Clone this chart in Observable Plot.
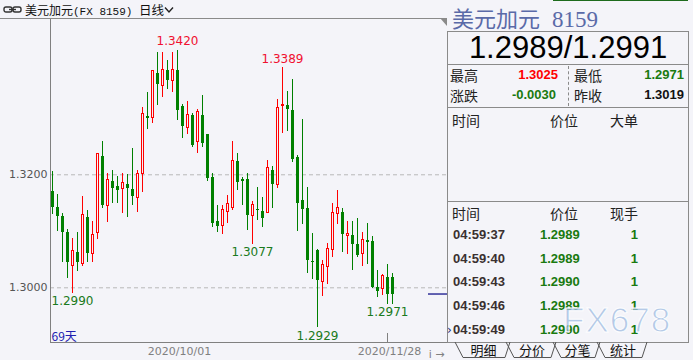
<!DOCTYPE html>
<html>
<head>
<meta charset="utf-8">
<script src="https://cdn.jsdelivr.net/npm/d3@7"></script>
<script src="https://cdn.jsdelivr.net/npm/@observablehq/plot@0.6"></script>
<style>
  html, body { margin: 0; padding: 0; background: #f4f4f9; }
  #wrap { position: relative; width: 693px; height: 360px; overflow: hidden; background: #f4f4f9;
          font-family: "Noto Sans CJK SC", "DejaVu Sans", sans-serif; }
  .abs { position: absolute; white-space: nowrap; }
  .hl { position: absolute; height: 1px; background: #8a8a8a; }
  .cn { font-family: "Noto Sans CJK SC", sans-serif; font-size: 14px; color: #222; line-height: 20px; }
  .num { font-family: "Liberation Sans", Arial, sans-serif; font-weight: bold; font-size: 13px; line-height: 20px; }
  #chart svg { display: block; }
</style>
</head>
<body>
<div id="wrap">
  <div id="chart" class="abs" style="left:0;top:0"></div>
</div>
<script>
// ---------------- data ----------------
const opens  = [1.3171,1.3143,1.3126,1.3097,1.3039,1.3063,1.3042,1.3124,1.3060,1.3097,
                1.3232,1.3145,1.3188,1.3179,1.3175,1.3183,1.3174,1.3159,1.3202,1.3303,
                1.3301,1.3379,1.3357,1.3385,1.3366,1.3385,1.3320,1.3283,1.3305,1.3258,
                1.3305,1.3271,1.3196,1.3117,1.3110,1.3134,1.3142,1.3224,1.3192,1.3192,
                1.3127,1.3139,1.3135,1.3132,1.3208,1.3182,1.3322,1.3323,1.3314,1.3230,
                1.3155,1.3140,1.3047,1.3066,1.3010,1.3037,1.3067,1.3131,1.3133,1.3091,
                1.3093,1.3077,1.3060,1.3084,1.3082,1.3001,1.2997,1.3019,1.3019];
const highs  = [1.3205,1.3166,1.3132,1.3104,1.3087,1.3097,1.3162,1.3136,1.3117,1.3237,
                1.3259,1.3202,1.3208,1.3197,1.3202,1.3201,1.3246,1.3208,1.3319,1.3346,
                1.3385,1.3416,1.3417,1.3402,1.3417,1.3420,1.3324,1.3330,1.3308,1.3316,
                1.3340,1.3271,1.3202,1.3145,1.3146,1.3163,1.3259,1.3238,1.3195,1.3203,
                1.3153,1.3178,1.3159,1.3225,1.3214,1.3333,1.3389,1.3348,1.3369,1.3234,
                1.3298,1.3177,1.3096,1.3068,1.3048,1.3078,1.3149,1.3172,1.3140,1.3117,
                1.3117,1.3122,1.3097,1.3113,1.3090,1.3031,1.3024,1.3041,1.3025];
const lows   = [1.3129,1.3100,1.3044,1.3017,1.2990,1.3029,1.3037,1.3044,1.3045,1.3085,
                1.3140,1.3116,1.3149,1.3150,1.3132,1.3125,1.3145,1.3134,1.3168,1.3280,
                1.3290,1.3322,1.3336,1.3351,1.3346,1.3296,1.3265,1.3271,1.3248,1.3238,
                1.3249,1.3189,1.3106,1.3097,1.3094,1.3114,1.3137,1.3172,1.3146,1.3101,
                1.3077,1.3119,1.3106,1.3131,1.3140,1.3175,1.3273,1.3277,1.3222,1.3100,
                1.3112,1.3026,1.3015,1.2929,1.2985,1.3006,1.3053,1.3112,1.3063,1.3059,
                1.3031,1.3054,1.3037,1.3041,1.2998,1.2983,1.2986,1.2971,1.2971];
const closes = [1.3143,1.3127,1.3097,1.3045,1.3066,1.3045,1.3128,1.3061,1.3094,1.3236,
                1.3145,1.3191,1.3176,1.3173,1.3186,1.3175,1.3162,1.3202,1.3307,1.3300,
                1.3383,1.3359,1.3385,1.3366,1.3386,1.3314,1.3286,1.3305,1.3252,1.3311,
                1.3255,1.3194,1.3114,1.3109,1.3137,1.3149,1.3224,1.3187,1.3189,1.3128,
                1.3146,1.3136,1.3122,1.3212,1.3183,1.3319,1.3324,1.3316,1.3227,1.3150,
                1.3139,1.3048,1.3044,1.3013,1.3040,1.3068,1.3133,1.3142,1.3094,1.3096,
                1.3077,1.3057,1.3084,1.3081,1.3001,1.2994,1.3021,1.2988,1.2989];

const yTicks = [1.30, 1.32];
const xTickIndex = [25, 67];
const xTickLabels = ["2020/10/01", "2020/11/28"];
const highMarkIndex = [25, 46];       // candles with labelled highs
const lowMarkIndex  = [4, 40, 53, 67]; // candles with labelled lows
const lastPrice = 1.2989;
const dayCount = "69天";

// side panel values
const panelTitle = "美元加元";
const panelCode = "8159";
const bidAsk = "1.2989/1.2991";
const statHigh = "1.3025", statLow = "1.2971", statChange = "-0.0030", statPrev = "1.3019";
const tickTimes = ["04:59:37","04:59:40","04:59:43","04:59:46","04:59:49"];
const tickPrices = ["1.2989","1.2989","1.2990","1.2989","1.2990"];
const tickVols = ["1","1","1","1","1"];
const tabs = ["明细","分价","分笔","统计"];

// --------------- chart ----------------
const RED = "#ff0000", GREEN = "#008000", BG = "#f4f4f9";
const Y0 = 1.29032, Y1 = 1.34766;
const candles = opens.map((o, i) => ({
  i, open: o, high: highs[i], low: lows[i], close: closes[i], up: closes[i] >= o
}));
const upC = candles.filter(d => d.up), downC = candles.filter(d => !d.up);
const highMarks = highMarkIndex.map(i => ({i, v: highs[i]}));
const lowMarks = lowMarkIndex.map(i => ({i, v: lows[i]}));
const nLast = candles.length - 1;

const chart = Plot.plot({
  width: 447, height: 360,
  marginTop: 18, marginBottom: 18, marginLeft: 50, marginRight: 0,
  style: {background: "transparent", fontFamily: "'DejaVu Sans', sans-serif", fontSize: "11px", overflow: "visible"},
  x: {type: "linear", domain: [-0.4, 79], axis: null},
  y: {domain: [Y0, Y1], axis: null},
  marks: [
    Plot.gridY(yTicks, {stroke: "#b8b8b8", strokeOpacity: 1, strokeDasharray: "4,3"}),
    Plot.axisY(yTicks, {anchor: "left", tickSize: 0, tickPadding: 3, tickFormat: d3.format(".4f"), fill: "#555", fontSize: 11}),
    Plot.ruleX([-0.4], {stroke: "#808080"}),
    Plot.ruleY([Y0], {stroke: "#808080"}),
    Plot.axisX(xTickIndex, {anchor: "bottom", tickSize: 0, tickPadding: 5,
      tickFormat: d => xTickLabels[xTickIndex.indexOf(d)], fill: "#808080", fontSize: 11, dx: 2}),
    Plot.ruleX([xTickIndex[1]], {y1: Y0, y2: Y0 + 9 / 5650, stroke: "#808080"}),
    Plot.ruleX(candles, {x: "i", y1: "low", y2: "high", stroke: d => d.up ? RED : GREEN, shapeRendering: "crispEdges"}),
    Plot.rect(downC, {x1: d => d.i - 0.3, x2: d => d.i + 0.3, y1: "open", y2: "close", fill: GREEN, shapeRendering: "crispEdges"}),
    Plot.rect(upC, {x1: d => d.i - 0.2, x2: d => d.i + 0.2, y1: "open", y2: "close", fill: BG, stroke: RED, strokeWidth: 1, shapeRendering: "crispEdges"}),
    Plot.text(highMarks, {x: "i", y: "v", text: d => d.v.toFixed(4), dy: -9, fill: "#f01030", fontSize: 12}),
    Plot.text(lowMarks, {x: "i", y: "v", text: d => d.v.toFixed(4), dy: 8, fill: "#1a7a20", fontSize: 12}),
    Plot.ruleY([lastPrice], {x1: nLast + 7.2, x2: 79, stroke: "#000080", strokeWidth: 1.2}),
    Plot.text([dayCount], {frameAnchor: "bottom-left", dx: 1, dy: -2, fill: "#2020b0", fontSize: 12,
      fontFamily: "'Noto Sans CJK SC', sans-serif", textAnchor: "start", lineAnchor: "bottom"})
  ]
});
document.getElementById("chart").appendChild(chart);

// --------------- overlays -------------
const wrap = document.getElementById("wrap");
function add(html) { wrap.insertAdjacentHTML("beforeend", html); }

// top bar
add(`<div class="hl" style="left:0;top:18px;width:441px;"></div>`);
add(`<svg class="abs" style="left:3px;top:5px" width="20" height="10">
  <rect x="1" y="2" width="8" height="5" rx="2" fill="none" stroke="#333" stroke-width="1.4"/>
  <rect x="10" y="2" width="8" height="5" rx="2" fill="none" stroke="#333" stroke-width="1.4"/>
  <line x1="6" y1="4.5" x2="13" y2="4.5" stroke="#333" stroke-width="1.4"/></svg>`);
add(`<div class="abs" style="left:25px;top:1px;font-size:12px;line-height:17px;color:#111;">${panelTitle}<span style="font-family:'Liberation Mono',monospace;font-size:11px;">(FX ${panelCode})</span></div>`);
add(`<div class="abs" style="left:139px;top:1px;font-size:12.5px;line-height:17px;color:#111;">日线</div>`);
add(`<svg class="abs" style="left:164px;top:6px" width="10" height="8"><polyline points="1,1.5 5,6 9,1.5" fill="none" stroke="#222" stroke-width="1.4"/></svg>`);
add(`<svg class="abs" style="left:440px;top:18px" width="8" height="10"><polygon points="0,0 7,0 7,8" fill="#8a8a8a"/></svg>`);

// side panel
add(`<div class="abs" style="left:553px;top:-4px;width:135px;height:5px;border:1px solid #1d6b1d;border-top:none;box-sizing:border-box;"></div>`);
add(`<div class="abs" style="left:452px;top:5px;font-size:22px;line-height:24px;color:#5a6aa8;">${panelTitle}<span style="font-family:'Liberation Serif',serif;font-size:23px;margin-left:12px;">${panelCode}</span></div>`);
add(`<div class="abs" style="left:447px;top:31px;width:242px;height:34px;border:1px solid #8a8a8a;box-sizing:border-box;"></div>`);
add(`<div class="abs" style="left:447px;top:31px;width:242px;height:34px;line-height:34px;text-align:center;font-family:'Liberation Sans',Arial,sans-serif;font-size:31px;color:#000;">${bidAsk}</div>`);
add(`<div class="abs" style="left:447px;top:64px;width:242px;height:279px;border:1px solid #8a8a8a;border-top:none;box-sizing:border-box;"></div>`);
add(`<div class="abs" style="left:568px;top:66px;width:0;height:40px;border-left:1px dashed #8a8a8a;"></div>`);
add(`<div class="abs cn" style="left:450px;top:65px;">最高</div>`);
add(`<div class="abs num" style="left:500px;top:65px;width:58px;text-align:right;color:#ff0000;">${statHigh}</div>`);
add(`<div class="abs cn" style="left:574px;top:65px;">最低</div>`);
add(`<div class="abs num" style="left:626px;top:65px;width:58px;text-align:right;color:#1a7a10;">${statLow}</div>`);
add(`<div class="abs cn" style="left:450px;top:85px;">涨跌</div>`);
add(`<div class="abs num" style="left:496px;top:85px;width:60px;text-align:right;color:#1a7a10;">${statChange}</div>`);
add(`<div class="abs cn" style="left:574px;top:85px;">昨收</div>`);
add(`<div class="abs num" style="left:626px;top:85px;width:58px;text-align:right;color:#111;">${statPrev}</div>`);
add(`<div class="hl" style="left:447px;top:107px;width:242px;"></div>`);
add(`<div class="abs cn" style="left:452px;top:110px;">时间</div>`);
add(`<div class="abs cn" style="left:550px;top:110px;">价位</div>`);
add(`<div class="abs cn" style="left:610px;top:110px;">大单</div>`);
add(`<div class="hl" style="left:447px;top:201px;width:242px;"></div>`);
add(`<div class="abs cn" style="left:452px;top:203px;">时间</div>`);
add(`<div class="abs cn" style="left:550px;top:203px;">价位</div>`);
add(`<div class="abs cn" style="left:610px;top:203px;">现手</div>`);
const rowY = [225, 249, 272, 296, 320];
tickTimes.forEach((t, k) => {
  add(`<div class="abs num" style="left:453px;top:${rowY[k]}px;color:#3a3030;">${t}</div>`);
  add(`<div class="abs num" style="left:540px;top:${rowY[k]}px;color:#1a7a10;">${tickPrices[k]}</div>`);
  add(`<div class="abs num" style="left:600px;top:${rowY[k]}px;width:38px;text-align:right;color:#1a7a10;">${tickVols[k]}</div>`);
});
add(`<div class="abs" style="left:447px;top:320px;font-size:12px;line-height:20px;color:#203080;font-family:'DejaVu Sans',sans-serif;">›</div>`);

// tabs
const tabX = [[455, 510], [506, 556], [553, 600], [597, 647]];
let tabSvg = `<svg class="abs" style="left:440px;top:342px;overflow:visible" width="253" height="18">`;
tabX.forEach(([a, b], k) => {
  const A = a - 440, B = b - 440;
  tabSvg += `<polyline points="${A},0 ${A + 8},15.5 ${B - 5},15.5 ${B},0" fill="none" stroke="#555" stroke-width="1"/>`;
  tabSvg += `<text x="${(A + B) / 2 + 1}" y="12.5" text-anchor="middle" font-size="13" font-family="Noto Sans CJK SC" fill="#111">${tabs[k]}</text>`;
});
tabSvg += `</svg>`;
add(tabSvg);

// watermark
add(`<div class="abs" style="left:563px;top:300px;font-family:'Liberation Sans',Arial,sans-serif;font-size:35px;line-height:40px;letter-spacing:1px;color:rgba(160,188,225,0.75);-webkit-text-stroke:1px rgba(255,255,255,0.95);">FX678</div>`);
</script>
</body>
</html>
